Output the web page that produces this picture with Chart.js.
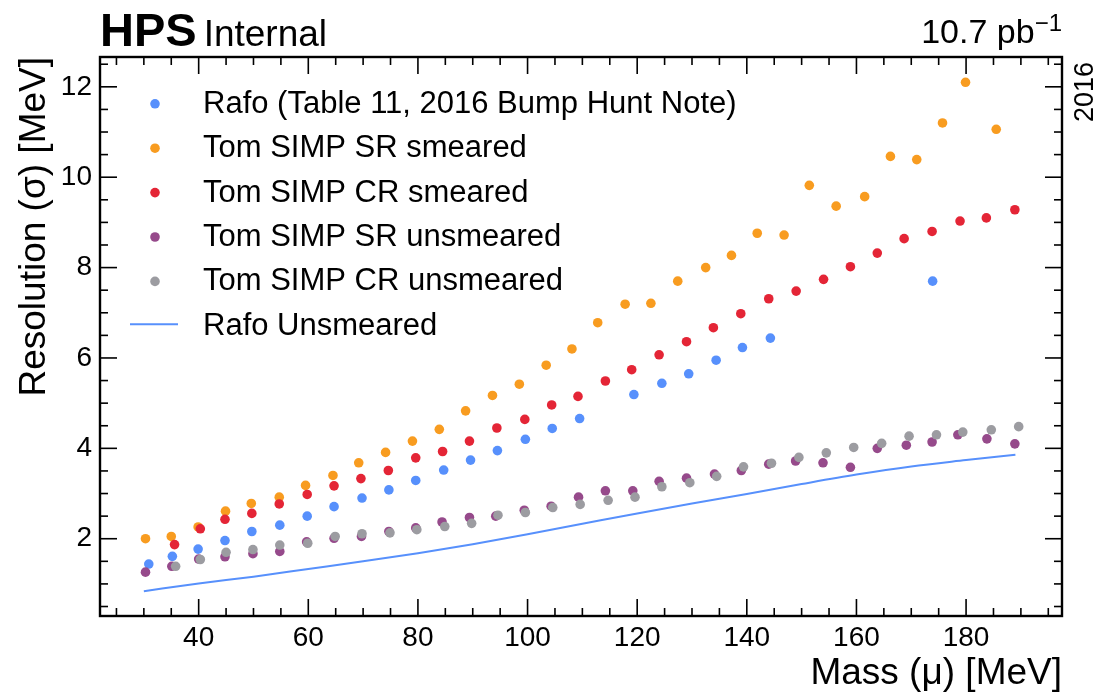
<!DOCTYPE html>
<html><head><meta charset="utf-8">
<script src="https://cdn.jsdelivr.net/npm/chart.js@4.4.1/dist/chart.umd.min.js"></script>
<style>html,body{margin:0;padding:0;background:#fff;}#wrap{width:1098px;height:698px;}</style>
</head><body><div id="wrap"><canvas id="c" width="1098" height="698"></canvas></div>
<script>
// ---- data ----
const massRafo = [30.9,35.2,39.9,44.8,49.7,54.8,59.8,64.7,69.8,74.7,79.6,84.7,89.6,94.5,99.6,104.5,109.5,119.4,124.5,129.4,134.4,139.2,144.3,173.9];
const resRafo  = [1.44,1.61,1.77,1.96,2.16,2.30,2.50,2.71,2.90,3.08,3.29,3.52,3.74,3.95,4.20,4.44,4.66,5.19,5.44,5.65,5.95,6.23,6.44,7.70];

const massSRsm = [30.3,35.0,39.9,44.9,49.6,54.7,59.5,64.5,69.2,74.1,79.0,83.9,88.7,93.6,98.5,103.4,108.1,112.8,117.8,122.5,127.4,132.5,137.2,141.9,146.8,151.4,156.3,161.5,166.2,171.0,175.7,179.9,185.5];
const resSRsm  = [2.00,2.05,2.26,2.61,2.78,2.92,3.18,3.40,3.68,3.91,4.16,4.42,4.83,5.17,5.42,5.84,6.20,6.78,7.19,7.21,7.70,8.00,8.27,8.76,8.72,9.82,9.36,9.57,10.46,10.39,11.20,12.10,11.06];

const massCRsm = [35.6,40.3,44.8,49.7,54.7,59.8,64.7,69.6,74.6,79.6,84.5,89.4,94.4,99.5,104.4,109.2,114.2,119.0,124.0,129.0,133.9,138.9,144.0,149.0,154.0,158.9,163.8,168.7,173.8,178.9,183.7,188.9];
const resCRsm  = [1.87,2.22,2.43,2.56,2.77,2.98,3.17,3.33,3.51,3.79,3.93,4.16,4.45,4.64,4.96,5.15,5.49,5.74,6.07,6.36,6.67,6.98,7.31,7.48,7.74,8.02,8.32,8.64,8.80,9.03,9.10,9.28];

const massSRun = [30.3,35.1,40.0,44.8,49.9,54.8,59.7,64.7,69.7,74.7,79.6,84.4,89.4,94.2,99.4,104.3,109.3,114.2,119.2,124.0,129.0,134.1,139.0,144.0,148.9,153.9,158.9,163.8,169.1,173.8,178.5,183.8,188.9];
const resSRun  = [1.26,1.39,1.55,1.60,1.67,1.72,1.93,2.01,2.05,2.16,2.24,2.37,2.47,2.50,2.63,2.72,2.92,3.06,3.06,3.27,3.34,3.43,3.51,3.65,3.72,3.68,3.58,4.00,4.07,4.14,4.30,4.21,4.10];

const massCRun = [35.8,40.3,45.0,49.9,54.8,59.9,64.9,69.8,74.9,79.8,84.9,89.8,94.6,99.6,104.6,109.6,114.7,119.6,124.5,129.6,134.5,139.4,144.5,149.5,154.5,159.5,164.6,169.6,174.6,179.4,184.6,189.6];
const resCRun  = [1.39,1.54,1.70,1.76,1.86,1.90,2.05,2.11,2.13,2.20,2.27,2.34,2.52,2.58,2.69,2.76,2.85,2.92,3.15,3.24,3.38,3.59,3.67,3.80,3.90,4.02,4.11,4.27,4.30,4.36,4.41,4.48];

const massRafoLine = [30,40,50,60,70,80,90,100,110,120,130,140,150,160,170,180,189];
const resRafoLine  = [0.84,1.01,1.16,1.33,1.50,1.68,1.88,2.10,2.33,2.56,2.78,2.99,3.21,3.42,3.60,3.74,3.86];

const seriesLabels = ['Rafo (Table 11, 2016 Bump Hunt Note)','Tom SIMP SR smeared','Tom SIMP CR smeared','Tom SIMP SR unsmeared','Tom SIMP CR unsmeared','Rafo Unsmeared'];
const seriesColors = ['#5790fc','#f89c20','#e42536','#964a8b','#9c9ca1','#5790fc'];
const xTickValues = [40,60,80,100,120,140,160,180];
const yTickValues = [2,4,6,8,10,12];
const xMinorStep = 5, yMinorStep = 0.5;

const FONT = '"Liberation Sans", Arial, Helvetica, sans-serif';
Chart.defaults.font.family = FONT;
Chart.defaults.color = '#000';

const pts = (xs, ys) => xs.map((v, i) => ({x: v, y: ys[i]}));
const scatterSets = [[massRafo,resRafo],[massSRsm,resSRsm],[massCRsm,resCRsm],[massSRun,resSRun],[massCRun,resCRun]];
const datasets = scatterSets.map((s, i) => ({
  label: seriesLabels[i], data: pts(s[0], s[1]),
  backgroundColor: seriesColors[i], borderWidth: 0, pointRadius: 4.8, pointHoverRadius: 4.8,
  order: 10 - i
}));
datasets.push({
  label: seriesLabels[5], data: pts(massRafoLine, resRafoLine), showLine: true,
  borderColor: seriesColors[5], borderWidth: 2, pointRadius: 0, fill: false,
  cubicInterpolationMode: 'monotone', order: 20
});

const deco = {
  id: 'deco',
  afterDatasetsDraw(chart) {
    const {ctx, chartArea: a, scales: {x, y}} = chart;
    ctx.save();
    ctx.strokeStyle = '#000'; ctx.lineWidth = 1.6;
    const seg = (x1, y1, x2, y2) => { ctx.beginPath(); ctx.moveTo(x1, y1); ctx.lineTo(x2, y2); ctx.stroke(); };
    for (let v = Math.ceil(x.min / xMinorStep) * xMinorStep; v <= x.max; v += xMinorStep) {
      const p = x.getPixelForValue(v);
      const L = xTickValues.includes(v) ? 17 : 8;
      seg(p, a.bottom, p, a.bottom - L); seg(p, a.top, p, a.top + L);
    }
    for (let k = Math.ceil(y.min / yMinorStep); k * yMinorStep <= y.max; k++) {
      const v = k * yMinorStep;
      const p = y.getPixelForValue(v);
      const L = yTickValues.includes(v) ? 17 : 8;
      seg(a.left, p, a.left + L, p); seg(a.right, p, a.right - L, p);
    }
    ctx.lineWidth = 2.4;
    ctx.strokeRect(a.left, a.top, a.right - a.left, a.bottom - a.top);

    // legend
    const ds = chart.data.datasets;
    ctx.font = '31px ' + FONT; ctx.fillStyle = '#000'; ctx.textBaseline = 'alphabetic'; ctx.textAlign = 'left';
    for (let i = 0; i < ds.length; i++) {
      const base = a.top + 55.7 + 44.4 * i;
      if (ds[i].showLine) {
        ctx.strokeStyle = ds[i].borderColor; ctx.lineWidth = 2;
        seg(130, base - 10.5, 178, base - 10.5);
      } else {
        ctx.fillStyle = ds[i].backgroundColor;
        ctx.beginPath(); ctx.arc(155, base - 8.9, 4.8, 0, Math.PI * 2); ctx.fill();
      }
      ctx.fillStyle = '#000';
      ctx.fillText(ds[i].label, 203, base);
    }
    ctx.restore();
  },
  afterDraw(chart) {
    const {ctx, chartArea: a} = chart;
    ctx.save();
    ctx.fillStyle = '#000'; ctx.textBaseline = 'alphabetic';
    ctx.textAlign = 'left';
    ctx.font = 'bold 47px ' + FONT;
    ctx.fillText('HPS', a.left, 46);
    const w = ctx.measureText('HPS').width;
    ctx.font = '37px ' + FONT;
    ctx.fillText('Internal', a.left + w + 7, 46);
    // lumi
    ctx.font = '24px ' + FONT;
    const sup = '\u22121';
    const ws = ctx.measureText(sup).width;
    ctx.textAlign = 'right';
    ctx.fillText(sup, a.right, 31);
    ctx.font = '34px ' + FONT;
    ctx.fillText('10.7 pb', a.right - ws, 43);
    // year
    ctx.translate(1093, 62);
    ctx.rotate(-Math.PI / 2);
    ctx.font = '27px ' + FONT;
    ctx.textAlign = 'right';
    ctx.fillText('2016', 0, 0);
    ctx.restore();
  }
};

new Chart(document.getElementById('c'), {
  type: 'scatter',
  data: {datasets},
  options: {
    responsive: false, animation: false, events: [],
    layout: {padding: {top: 57, right: 36, left: 0, bottom: 0}},
    plugins: {legend: {display: false}, tooltip: {enabled: false}},
    scales: {
      x: {
        type: 'linear', min: 22, max: 197.5,
        grid: {display: false, drawTicks: false}, border: {display: false},
        afterBuildTicks: s => { s.ticks = xTickValues.map(v => ({value: v})); },
        ticks: {font: {size: 28}, color: '#000', padding: 5, maxRotation: 0, autoSkip: false},
        title: {display: true, text: 'Mass (\u03bc) [MeV]', align: 'end', color: '#000', font: {size: 37}, padding: {top: 0, bottom: 2}},
        afterFit: s => { s.height = 82; }
      },
      y: {
        type: 'linear', min: 0.29, max: 12.66,
        grid: {display: false, drawTicks: false}, border: {display: false},
        afterBuildTicks: s => { s.ticks = yTickValues.map(v => ({value: v})); },
        ticks: {font: {size: 28}, color: '#000', padding: 8},
        title: {display: true, text: 'Resolution (\u03c3) [MeV]', align: 'end', color: '#000', font: {size: 37}, padding: {top: 13, bottom: 0}},
        afterFit: s => { s.width = 100; }
      }
    }
  },
  plugins: [deco]
});
</script></body></html>
